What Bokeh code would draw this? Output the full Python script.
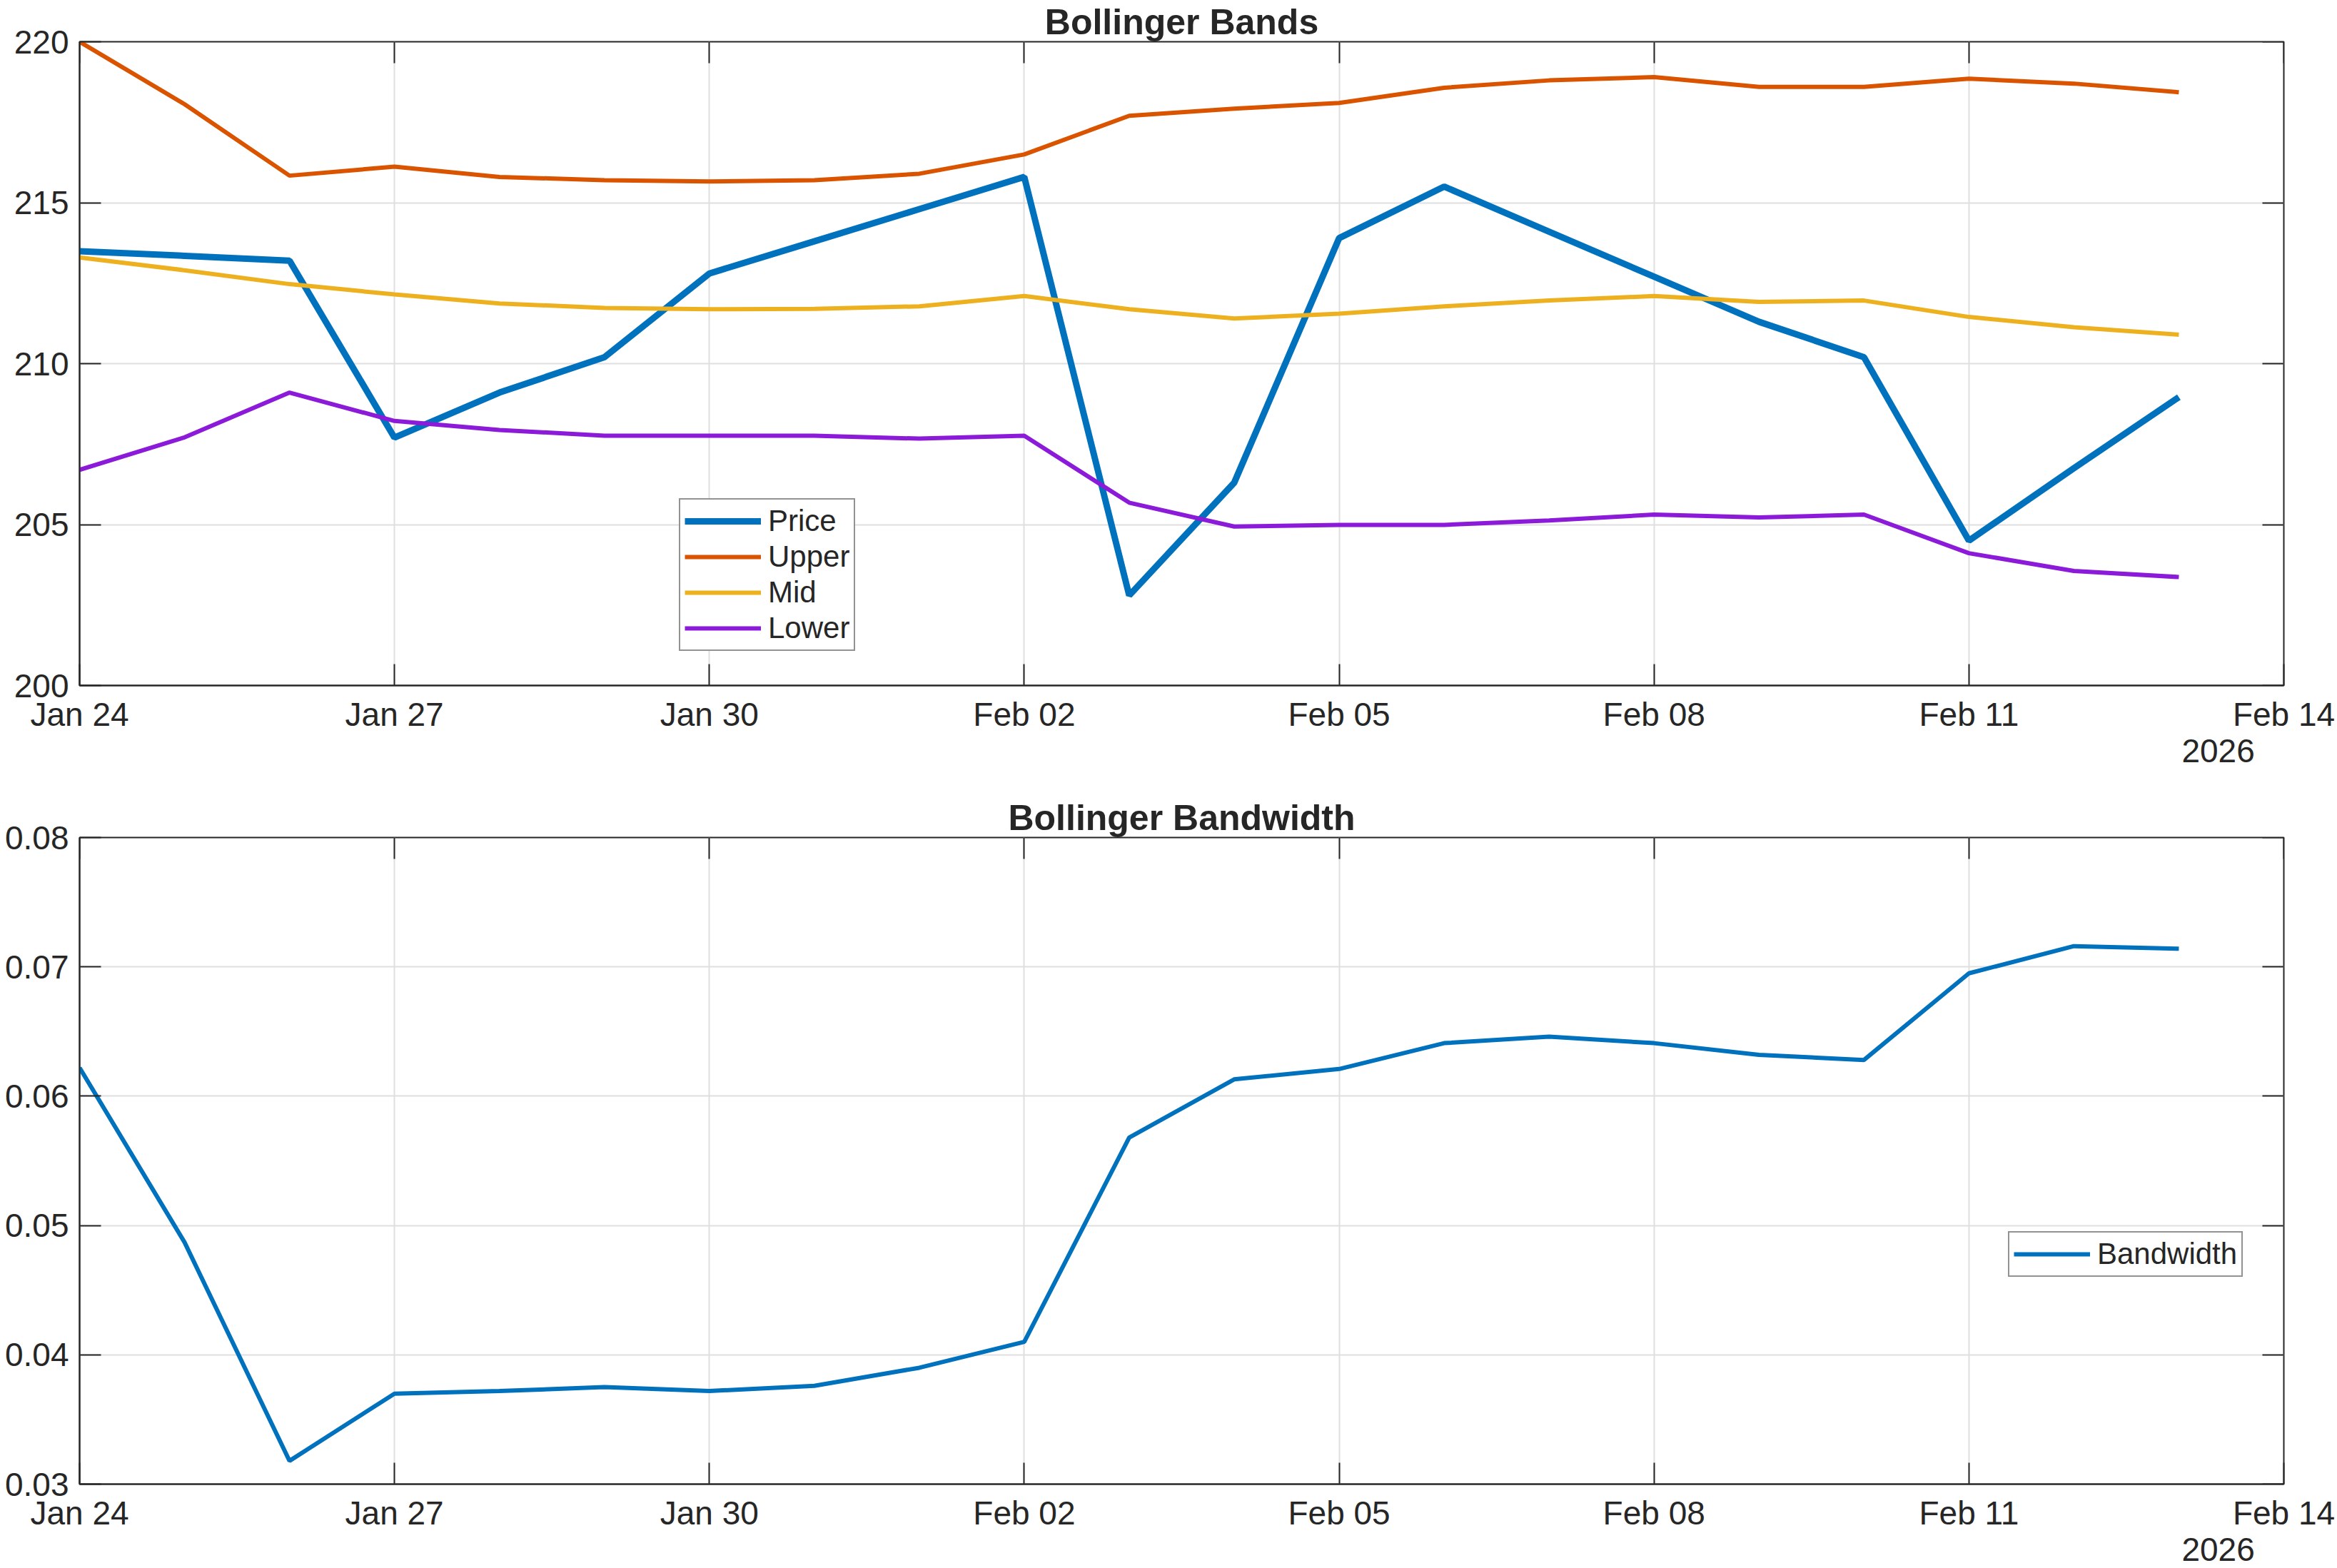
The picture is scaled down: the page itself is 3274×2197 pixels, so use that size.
import datetime as dt
from bokeh.plotting import figure
from bokeh.models import (FixedTicker, DatetimeTickFormatter, DatetimeAxis, LinearAxis,
                          Legend, LegendItem, Range1d)
from bokeh.layouts import column
from bokeh.embed import file_html
from bokeh.resources import INLINE

# ---------------- data ----------------
dates = ["2026-01-24", "2026-01-25", "2026-01-26", "2026-01-27", "2026-01-28", "2026-01-29",
         "2026-01-30", "2026-01-31", "2026-02-01", "2026-02-02", "2026-02-03", "2026-02-04",
         "2026-02-05", "2026-02-06", "2026-02-07", "2026-02-08", "2026-02-09", "2026-02-10",
         "2026-02-11", "2026-02-12", "2026-02-13"]
price = [213.49, 213.35, 213.2, 207.7, 209.1, 210.2, 212.8, 213.8, 214.8, 215.8, 202.8,
         206.3, 213.9, 215.5, 214.1, 212.7, 211.3, 210.2, 204.5, 206.75, 208.96]
upper = [220.0, 218.06, 215.84, 216.12, 215.8, 215.7, 215.66, 215.7, 215.9, 216.5, 217.7,
         217.92, 218.1, 218.57, 218.8, 218.9, 218.6, 218.6, 218.85, 218.7, 218.43]
mid = [213.3, 212.9, 212.47, 212.15, 211.87, 211.73, 211.69, 211.7, 211.78, 212.1, 211.69,
       211.4, 211.55, 211.78, 211.96, 212.1, 211.92, 211.96, 211.45, 211.13, 210.9]
lower = [206.7, 207.71, 209.1, 208.22, 207.94, 207.76, 207.76, 207.76, 207.67, 207.76, 205.68,
         204.94, 204.99, 204.99, 205.13, 205.31, 205.22, 205.31, 204.11, 203.56, 203.37]
bandwidth = [0.0622, 0.0487, 0.0318, 0.0370, 0.0372, 0.0375, 0.0372, 0.0376, 0.0390, 0.0410,
             0.0568, 0.0613, 0.0621, 0.0641, 0.0646, 0.0641, 0.0632, 0.0628, 0.0695, 0.0716,
             0.0714]
x_tick_dates = ["2026-01-24", "2026-01-27", "2026-01-30", "2026-02-02", "2026-02-05",
                "2026-02-08", "2026-02-11", "2026-02-14"]
x_range_dates = ["2026-01-24", "2026-02-14"]
year_label_date = "2026-02-13 09:00"
top_yticks = [200, 205, 210, 215, 220]
bot_yticks = [0.03, 0.04, 0.05, 0.06, 0.07, 0.08]

# ---------------- helpers ----------------
EPOCH = dt.datetime(1970, 1, 1)


def to_dt(s):
    fmt = "%Y-%m-%d %H:%M" if " " in s else "%Y-%m-%d"
    return dt.datetime.strptime(s, fmt)


def to_ms(s):
    return (to_dt(s) - EPOCH).total_seconds() * 1000.0


x = [to_dt(d) for d in dates]
xt = [to_ms(d) for d in x_tick_dates]

FONT = "Liberation Sans"
TXT = "#262626"
AX = "#262626"
GRID = "#dfdfdf"
BLUE = "#0072BD"
ORANGE = "#DA5400"
YELLOW = "#EDB120"
PURPLE = "#8C1AD9"
TICK_LEN = 30


def day_fmt(f):
    return DatetimeTickFormatter(days=f, months=f, hours=f, years=f, minutes=f,
                                 hourmin=f, seconds=f, minsec=f, milliseconds=f,
                                 microseconds=f)


def make_fig(title, yr, yticks, frame_h, bottom_border):
    x0, x1 = to_ms(x_range_dates[0]), to_ms(x_range_dates[1])
    p = figure(x_axis_type="datetime", output_backend="svg", toolbar_location=None,
               frame_width=3088, frame_height=frame_h,
               x_range=Range1d(x0, x1), y_range=Range1d(*yr),
               min_border_left=111, min_border_right=75, min_border_top=56,
               min_border_bottom=bottom_border)
    p.title.text = title
    p.title.align = "center"
    p.title.text_font = FONT
    p.title.text_font_size = "50px"
    p.title.text_font_style = "bold"
    p.title.text_color = TXT
    p.title.standoff = 0
    p.title.offset = 0
    p.background_fill_color = "white"
    p.border_fill_color = "white"
    p.outline_line_color = AX
    p.outline_line_width = 2
    p.outline_line_alpha = 1

    xa = p.xaxis[0]
    xa.ticker = FixedTicker(ticks=xt)
    xa.formatter = day_fmt("%b %d")
    ya = p.yaxis[0]
    ya.ticker = FixedTicker(ticks=yticks)
    for a in (xa, ya):
        a.major_label_text_font = FONT
        a.major_label_text_font_size = "46px"
        a.major_label_text_color = TXT
        a.axis_line_color = AX
        a.axis_line_width = 2
        a.major_tick_line_color = AX
        a.major_tick_line_width = 2
        a.major_tick_in = TICK_LEN
        a.major_tick_out = 0
        a.minor_tick_line_color = None
    xa.major_label_standoff = 14
    ya.major_label_standoff = 15

    p.xgrid.grid_line_color = GRID
    p.xgrid.grid_line_width = 2
    p.ygrid.grid_line_color = GRID
    p.ygrid.grid_line_width = 2

    # mirrored ticks on top and right (box on), drawn at the frame edges
    top = DatetimeAxis(ticker=FixedTicker(ticks=xt), formatter=day_fmt("%b %d"),
                       fixed_location=yr[1])
    right = LinearAxis(ticker=FixedTicker(ticks=yticks), fixed_location=x1)
    for a in (top, right):
        a.major_label_text_color = None
        a.axis_line_color = None
        a.major_tick_line_color = AX
        a.major_tick_line_width = 2
        a.major_tick_in = TICK_LEN
        a.major_tick_out = 0
        a.minor_tick_line_color = None
    p.add_layout(top, "above")
    p.add_layout(right, "right")

    # year label axis
    yax = DatetimeAxis(ticker=FixedTicker(ticks=[to_ms(year_label_date)]),
                       formatter=day_fmt("%Y"))
    yax.axis_line_color = None
    yax.major_tick_line_color = None
    yax.minor_tick_line_color = None
    yax.major_label_text_font = FONT
    yax.major_label_text_font_size = "46px"
    yax.major_label_text_color = TXT
    yax.major_label_standoff = 0
    p.add_layout(yax, "below")
    return p


def style_legend(leg, loc):
    leg.location = loc
    leg.label_text_font = FONT
    leg.label_text_font_size = "42px"
    leg.label_text_color = TXT
    leg.border_line_color = AX
    leg.border_line_width = 2
    leg.background_fill_color = "white"
    leg.background_fill_alpha = 1
    leg.glyph_width = 107
    leg.glyph_height = 40
    leg.label_height = 40
    leg.label_standoff = 10
    leg.spacing = 2
    leg.padding = 6
    leg.margin = 0


# ---------------- top: Bollinger Bands ----------------
p1 = make_fig("Bollinger Bands", (200, 220), top_yticks, 902, 155)
r_price = p1.line(x, price, line_color=BLUE, line_width=9)
r_up = p1.line(x, upper, line_color=ORANGE, line_width=6)
r_mid = p1.line(x, mid, line_color=YELLOW, line_width=6)
r_low = p1.line(x, lower, line_color=PURPLE, line_width=6)
leg1 = Legend(items=[LegendItem(label="Price", renderers=[r_price]),
                     LegendItem(label="Upper", renderers=[r_up]),
                     LegendItem(label="Mid", renderers=[r_mid]),
                     LegendItem(label="Lower", renderers=[r_low])])
style_legend(leg1, (840, 48))
p1.add_layout(leg1)

# ---------------- bottom: Bollinger Bandwidth ----------------
p2 = make_fig("Bollinger Bandwidth", (0.03, 0.08), bot_yticks, 906, 117)
r_bw = p2.line(x, bandwidth, line_color=BLUE, line_width=6)
leg2 = Legend(items=[LegendItem(label="Bandwidth", renderers=[r_bw])])
style_legend(leg2, (2702, 290))
p2.add_layout(leg2)

layout = column(p1, p2, spacing=0)
open("out.html", "w").write(file_html(layout, INLINE))
